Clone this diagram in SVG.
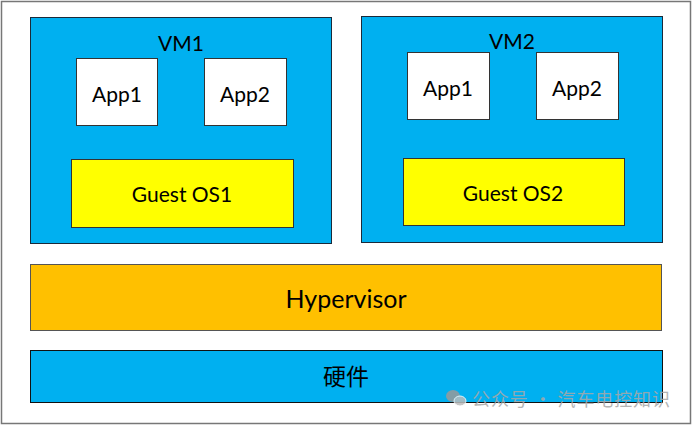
<svg xmlns="http://www.w3.org/2000/svg" width="693" height="426" viewBox="0 0 693 426">
<style>
.t{font-family:Lato,"Noto Sans","Noto Sans CJK SC",sans-serif;fill:#000;text-anchor:middle;dominant-baseline:central}
.vm{fill:#00B0F0;stroke:#1a2a3a;stroke-width:1}
.app{fill:#fff;stroke:#333;stroke-width:1}
.os{fill:#FFFF00;stroke:#333;stroke-width:1}
</style>
<rect x="0" y="0" width="693" height="426" fill="#fff"/>
<rect x="1.5" y="1.5" width="689" height="422" fill="none" stroke="#777" stroke-width="1.5"/>
<g id="vm1">
<rect class="vm" x="30.5" y="17.5" width="301" height="226"/>
<text class="t" x="181" y="42" font-size="21">VM1</text>
</g>
<g id="vm1-app1"><rect class="app" x="76.5" y="58.5" width="81" height="67"/><text class="t" x="117" y="93" font-size="21">App1</text></g>
<g id="vm1-app2"><rect class="app" x="204.5" y="58.5" width="82" height="67"/><text class="t" x="245" y="93" font-size="21">App2</text></g>
<g id="vm1-os"><rect class="os" x="71.5" y="159.5" width="222" height="68"/><text class="t" x="182" y="193" font-size="21">Guest OS1</text></g>
<g id="vm2">
<rect class="vm" x="361.5" y="16.5" width="301" height="226"/>
<text class="t" x="512" y="40" font-size="21">VM2</text>
</g>
<g id="vm2-app1"><rect class="app" x="407.5" y="52.5" width="82" height="67"/><text class="t" x="448" y="87" font-size="21">App1</text></g>
<g id="vm2-app2"><rect class="app" x="536.5" y="52.5" width="82" height="67"/><text class="t" x="577" y="87" font-size="21">App2</text></g>
<g id="vm2-os"><rect class="os" x="403.5" y="158.5" width="221" height="67"/><text class="t" x="513" y="192" font-size="21">Guest OS2</text></g>
<g id="hypervisor"><rect x="30.5" y="264.5" width="631" height="66" fill="#FFC000" stroke="#555" stroke-width="1"/><text class="t" x="346" y="298" font-size="25">Hypervisor</text></g>
<g id="hardware"><rect x="30.5" y="350.5" width="632" height="52" fill="#00B0F0" stroke="#111" stroke-width="1"/><text class="t" x="346" y="376" font-size="23">硬件</text></g>
<g id="connectors"></g>
<g id="watermark" opacity="0.85">
<ellipse cx="453" cy="396" rx="7" ry="6" fill="#9a9a9a"/>
<ellipse cx="460" cy="401" rx="6" ry="5" fill="#bdbdbd" stroke="#fff" stroke-width="1"/>
<text x="472" y="398" font-family="'Noto Sans CJK SC',sans-serif" font-size="18" fill="#a8a8a8" dominant-baseline="central" textLength="198" lengthAdjust="spacing">公众号 · 汽车电控知识</text>
</g>
</svg>
